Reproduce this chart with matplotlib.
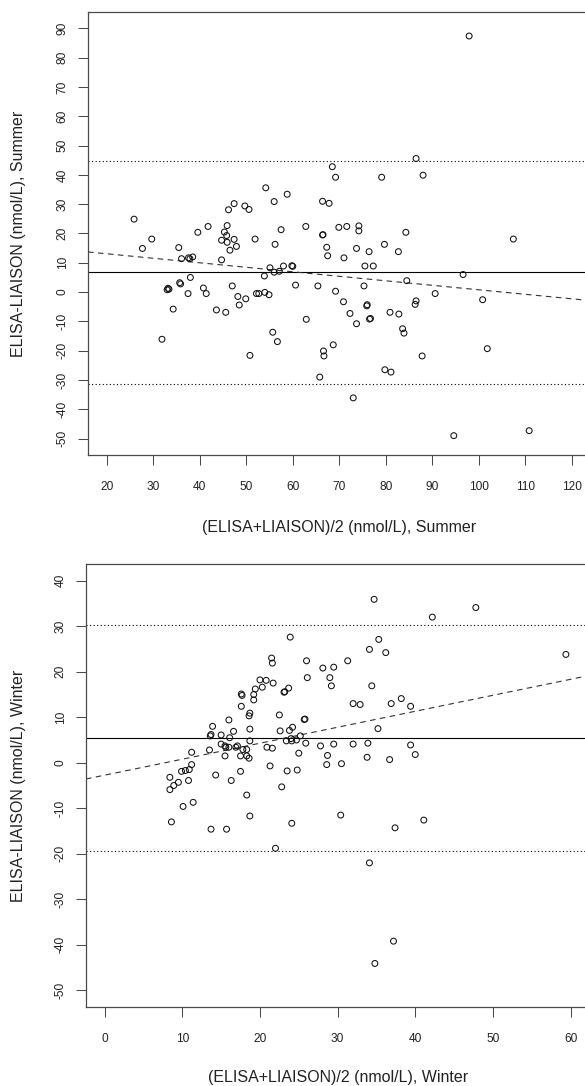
import matplotlib
matplotlib.use("Agg")
import matplotlib.pyplot as plt
import numpy as np

# ======================================
# Data: Bland-Altman, ELISA vs LIAISON
# ======================================
summer_mean = [25.9, 27.7, 29.7, 31.9, 33.0, 33.2, 33.4, 34.3, 35.5, 35.7,
               35.9, 36.1, 37.5, 37.6, 37.9, 38.0, 38.5, 39.6, 40.8, 41.4,
               41.8, 43.6, 44.7, 44.7, 45.3, 45.6, 45.8, 45.9, 45.9, 46.2,
               46.5, 47.0, 47.4, 47.4, 47.9, 48.2, 48.5, 49.7, 49.9, 50.6,
               50.8, 51.9, 52.2, 52.7, 53.9, 54.0, 54.2, 54.9, 55.1, 55.7,
               56.0, 56.0, 56.2, 56.7, 57.1, 57.5, 58.0, 58.8, 59.8, 60.0,
               60.6, 62.8, 62.9, 65.4, 65.8, 66.4, 66.4, 66.5, 66.6, 66.7,
               67.3, 67.5, 67.8, 68.5, 68.7, 69.2, 69.2, 69.9, 70.9, 71.0,
               71.6, 72.3, 73.0, 73.7, 73.7, 74.2, 74.2, 75.3, 75.5, 75.9,
               76.0, 76.4, 76.5, 76.7, 77.3, 79.1, 79.7, 79.8, 80.9, 81.1,
               82.7, 82.8, 83.6, 83.9, 84.3, 84.5, 86.3, 86.5, 86.5, 87.8,
               88.0, 90.6, 94.6, 96.6, 97.9, 100.8, 101.8, 107.4, 110.8]
summer_diff = [24.9, 14.9, 18.1, -16.1, 0.8, 1.3, 1.0, -5.8, 15.2, 3.2,
               2.8, 11.4, -0.5, 11.7, 11.4, 5.0, 12.0, 20.4, 1.4, -0.5,
               22.4, -6.1, 11.0, 17.7, 20.5, -6.9, 19.3, 22.7, 17.0, 28.1,
               14.3, 2.1, 30.2, 18.0, 15.6, -1.5, -4.4, 29.4, -2.3, 28.2,
               -21.6, 18.1, -0.5, -0.5, 5.5, -0.1, 35.6, -0.9, 8.3, -13.7,
               30.9, 6.8, 16.3, -16.9, 7.1, 21.3, 8.9, 33.4, 9.0, 8.8,
               2.4, 22.4, -9.3, 2.1, -29.0, 31.0, 19.5, 19.6, -20.1, -21.8,
               15.3, 12.4, 30.3, 42.8, -18.0, 39.2, 0.3, 22.1, -3.3, 11.7,
               22.4, -7.3, -36.1, 14.9, -10.8, 22.6, 20.9, 2.1, 8.9, -4.7,
               -4.3, 13.8, -9.2, -9.0, 8.9, 39.2, 16.3, -26.5, -6.9, -27.3,
               13.8, -7.5, -12.5, -14.0, 20.4, 3.9, -4.2, -3.0, 45.6, -21.8,
               39.9, -0.5, -49.0, 6.0, 87.4, -2.6, -19.3, 18.1, -47.3]

winter_mean = [8.4, 8.4, 8.6, 8.9, 9.5, 9.9, 10.1, 10.4, 10.8, 10.9,
               11.2, 11.2, 11.4, 13.5, 13.6, 13.7, 13.7, 13.9, 14.3, 15.0,
               15.0, 15.5, 15.5, 15.6, 15.7, 16.0, 16.0, 16.1, 16.3, 16.6,
               16.9, 17.1, 17.5, 17.5, 17.6, 17.7, 17.6, 17.8, 18.3, 18.3,
               18.3, 18.6, 18.6, 18.7, 18.7, 18.7, 18.7, 19.2, 19.2, 19.4,
               20.0, 20.3, 20.8, 20.9, 21.3, 21.5, 21.6, 21.6, 21.7, 22.0,
               22.5, 22.6, 22.8, 23.1, 23.2, 23.4, 23.5, 23.7, 23.8, 23.9,
               24.0, 24.1, 24.1, 24.2, 24.7, 24.8, 25.0, 25.2, 25.7, 25.8,
               25.9, 26.0, 26.1, 27.8, 28.1, 28.6, 28.7, 29.0, 29.2, 29.5,
               29.5, 30.4, 30.5, 31.3, 32.0, 32.0, 32.9, 33.8, 33.9, 34.1,
               34.1, 34.4, 34.7, 34.8, 35.2, 35.3, 36.2, 36.7, 36.9, 37.2,
               37.4, 38.2, 39.4, 39.4, 40.0, 41.1, 42.2, 47.8, 59.4]
winter_diff = [-3.2, -5.9, -13.0, -5.0, -4.3, -1.9, -9.6, -1.7, -3.9, -1.5,
               -0.4, 2.3, -8.7, 2.8, 5.9, 6.2, -14.6, 8.0, -2.7, 6.1,
               4.1, 3.7, 1.5, 3.4, -14.6, 9.4, 3.4, 5.5, -3.9, 6.9,
               3.4, 3.7, -1.9, 1.5, 15.1, 14.8, 12.4, 2.9, 2.9, 1.5,
               -7.1, 1.0, 10.3, 10.9, 7.4, 4.8, -11.7, 15.0, 13.8, 16.2,
               18.2, 16.6, 18.1, 3.4, -0.7, 23.0, 21.9, 3.2, 17.5, -18.8,
               10.5, 7.0, -5.3, 15.5, 15.6, 4.8, -1.8, 16.4, 7.1, 27.6,
               5.3, 4.8, -13.3, 7.8, 5.0, -1.6, 2.1, 5.9, 9.5, 9.6,
               4.3, 22.4, 18.7, 3.7, 20.8, -0.4, 1.6, 18.7, 16.9, 21.0,
               4.1, -11.5, -0.2, 22.4, 13.0, 4.1, 12.8, 1.2, 4.3, 24.9,
               -22.0, 16.9, 35.9, -44.1, 7.5, 27.1, 24.2, 0.7, 13.0, -39.2,
               -14.3, 14.1, 12.4, 3.9, 1.8, -12.6, 32.0, 34.1, 23.8]

# bias, limits of agreement and regression (intercept, slope)
summer_bias = 7.0
summer_loa = [-31.3, 44.9]
summer_fit = [16.16, -0.1538]
winter_bias = 5.45
winter_loa = [-19.5, 30.35]
winter_fit = [-2.73, 0.351]

summer_xticks = np.arange(20, 121, 10)
summer_yticks = np.arange(-50, 91, 10)
winter_xticks = np.arange(0, 61, 10)
winter_yticks = np.arange(-50, 41, 10)

# ======================================
# Style
# ======================================
plt.rcParams.update({
    "font.family": ["Liberation Sans", "DejaVu Sans"],
})
W, H = 585, 1086
text_col = "#222222"
box_col = "#4a4a4a"


def px_rect(left, top, right, bottom):
    return [left / W, 1 - bottom / H, (right - left) / W, (bottom - top) / H]


fig = plt.figure(figsize=(W / 100, H / 100), dpi=100, facecolor="white")
ax_s = fig.add_axes(px_rect(88, 12, 590.6, 455))
ax_w = fig.add_axes(px_rect(86, 564.3, 589.2, 1006.7))


def panel(ax, x, y, bias, loa, fit, xlim, ylim, xticks, yticks,
          xlabel, ylabel, xlab_y, ylab_x):
    ax.scatter(x, y, s=18, facecolors="none", edgecolors="#111111",
               linewidths=0.75, zorder=3)
    ax.axhline(bias, color="black", lw=0.8, zorder=2)
    for v in loa:
        ax.axhline(v, color="black", lw=0.8, ls=(0, (1, 2.2)), zorder=2)
    xx = np.array(xlim)
    ax.plot(xx, fit[0] + fit[1] * xx, color="#333333", lw=0.8,
            ls=(0, (5, 4)), zorder=2)

    ax.set_xlim(*xlim)
    ax.set_ylim(*ylim)
    ax.set_xticks(xticks)
    ax.set_xticklabels([str(v) for v in xticks])
    ax.set_yticks(yticks)
    ax.set_yticklabels([str(v) for v in yticks], rotation=90, va="center")
    ax.tick_params(axis="both", direction="out", length=7, width=0.75,
                   color=box_col, labelsize=8.6, labelcolor=text_col)
    ax.tick_params(axis="x", pad=12)
    ax.tick_params(axis="y", pad=7)
    for spine in ax.spines.values():
        spine.set_linewidth(0.9)
        spine.set_color(box_col)

    ax.set_xlabel(xlabel, fontsize=11.5, color=text_col, va="center")
    ax.xaxis.set_label_coords(0.5, xlab_y)
    ax.set_ylabel(ylabel, fontsize=11.5, color=text_col, va="center")
    ax.yaxis.set_label_coords(ylab_x, 0.5)


panel(ax_s, summer_mean, summer_diff, summer_bias, summer_loa, summer_fit,
      (16, 124), (-55.6, 95.6), summer_xticks, summer_yticks,
      "(ELISA+LIAISON)/2 (nmol/L), Summer", "ELISA-LIAISON (nmol/L), Summer",
      -0.1637, -0.1383)
panel(ax_w, winter_mean, winter_diff, winter_bias, winter_loa, winter_fit,
      (-2.4, 62.4), (-53.6, 43.6), winter_xticks, winter_yticks,
      "(ELISA+LIAISON)/2 (nmol/L), Winter", "ELISA-LIAISON (nmol/L), Winter",
      -0.159, -0.1351)

fig.savefig("out.png", dpi=100, facecolor="white")
